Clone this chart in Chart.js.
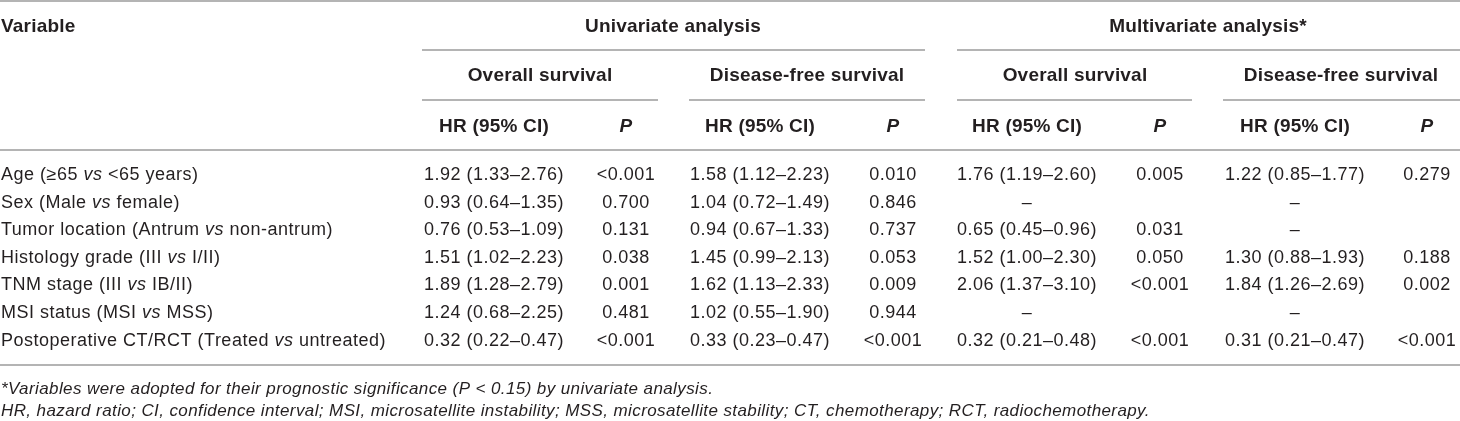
<!DOCTYPE html>
<html>
<head>
<meta charset="utf-8">
<script src="https://cdn.jsdelivr.net/npm/chart.js@4.4.0/dist/chart.umd.min.js"></script>
<style>
  html, body { margin: 0; padding: 0; background: #fff; }
  #wrap { width: 1460px; height: 421px; }
</style>
</head>
<body>
<div id="wrap"><canvas id="tbl" width="1460" height="421"></canvas></div>
<script>
// --- table data ---
const variables = [
  "Age (\u226565 vs <65 years)",
  "Sex (Male vs female)",
  "Tumor location (Antrum vs non-antrum)",
  "Histology grade (III vs I/II)",
  "TNM stage (III vs IB/II)",
  "MSI status (MSI vs MSS)",
  "Postoperative CT/RCT (Treated vs untreated)"
];
const uniOsHR  = ["1.92 (1.33\u20132.76)", "0.93 (0.64\u20131.35)", "0.76 (0.53\u20131.09)", "1.51 (1.02\u20132.23)", "1.89 (1.28\u20132.79)", "1.24 (0.68\u20132.25)", "0.32 (0.22\u20130.47)"];
const uniOsP   = ["<0.001", "0.700", "0.131", "0.038", "0.001", "0.481", "<0.001"];
const uniDfsHR = ["1.58 (1.12\u20132.23)", "1.04 (0.72\u20131.49)", "0.94 (0.67\u20131.33)", "1.45 (0.99\u20132.13)", "1.62 (1.13\u20132.33)", "1.02 (0.55\u20131.90)", "0.33 (0.23\u20130.47)"];
const uniDfsP  = ["0.010", "0.846", "0.737", "0.053", "0.009", "0.944", "<0.001"];
const mvOsHR   = ["1.76 (1.19\u20132.60)", "\u2013", "0.65 (0.45\u20130.96)", "1.52 (1.00\u20132.30)", "2.06 (1.37\u20133.10)", "\u2013", "0.32 (0.21\u20130.48)"];
const mvOsP    = ["0.005", "", "0.031", "0.050", "<0.001", "", "<0.001"];
const mvDfsHR  = ["1.22 (0.85\u20131.77)", "\u2013", "\u2013", "1.30 (0.88\u20131.93)", "1.84 (1.26\u20132.69)", "\u2013", "0.31 (0.21\u20130.47)"];
const mvDfsP   = ["0.279", "", "", "0.188", "0.002", "", "<0.001"];

const groupHeads = ["Univariate analysis", "Multivariate analysis*"];
const outcomeHeads = ["Overall survival", "Disease-free survival", "Overall survival", "Disease-free survival"];
const colHeads = ["HR (95% CI)", "P", "HR (95% CI)", "P", "HR (95% CI)", "P", "HR (95% CI)", "P"];
const footnotes = [
  "*Variables were adopted for their prognostic significance (P < 0.15) by univariate analysis.",
  "HR, hazard ratio; CI, confidence interval; MSI, microsatellite instability; MSS, microsatellite stability; CT, chemotherapy; RCT, radiochemotherapy."
];

// --- layout ---
const W = 1460, H = 421;
const COL_X = [494, 626, 760, 893, 1027, 1160, 1295, 1427];
const GROUP_X = [673, 1208];
const OUTCOME_X = [540, 807, 1075, 1341];
const ROW_Y0 = 175, ROW_STEP = 27.6;
const HEAD_Y = [27, 76, 127];
const FOOT_Y = [389, 411];
const TEXT = "#231f20", RULE = "#9b9b9b";
const FAMILY = '"Liberation Sans", Arial, Helvetica, sans-serif';

const columns = [uniOsHR, uniOsP, uniDfsHR, uniDfsP, mvOsHR, mvOsP, mvDfsHR, mvDfsP];

// draw a label with "vs" set in italics
function drawRich(ctx, text, x, y, size) {
  const parts = text.split(/\b(vs)\b/);
  let cx = x;
  ctx.textAlign = "left";
  for (const p of parts) {
    if (!p) continue;
    ctx.font = (p === "vs" ? "italic " : "") + size + "px " + FAMILY;
    ctx.fillText(p, cx, y);
    cx += ctx.measureText(p).width;
  }
}

const tablePlugin = {
  id: "tableCells",
  afterDraw(chart) {
    const { ctx, scales: { x, y } } = chart;
    const px = v => x.getPixelForValue(v), py = v => y.getPixelForValue(v);
    ctx.save();
    ctx.fillStyle = TEXT;
    ctx.textBaseline = "middle";

    // rules
    ctx.strokeStyle = RULE;
    ctx.lineWidth = 1.5;
    const rules = [
      [1, [[0, W]]],
      [50, [[422, 925], [957, W]]],
      [100, [[422, 658], [689, 925], [957, 1192], [1223, W]]],
      [150, [[0, W]]],
      [365, [[0, W]]]
    ];
    for (const [ry, segs] of rules) {
      for (const [a, b] of segs) {
        ctx.beginPath();
        ctx.moveTo(px(a), py(ry));
        ctx.lineTo(px(b), py(ry));
        ctx.stroke();
      }
    }

    // headers
    ctx.letterSpacing = "0.2px";
    ctx.font = "bold 19px " + FAMILY;
    ctx.textAlign = "left";
    ctx.fillText("Variable", px(1), py(HEAD_Y[0]));
    ctx.textAlign = "center";
    groupHeads.forEach((t, i) => ctx.fillText(t, px(GROUP_X[i]), py(HEAD_Y[0])));
    outcomeHeads.forEach((t, i) => ctx.fillText(t, px(OUTCOME_X[i]), py(HEAD_Y[1])));
    colHeads.forEach((t, i) => {
      ctx.font = (t === "P" ? "italic bold " : "bold ") + "19px " + FAMILY;
      ctx.fillText(t, px(COL_X[i]), py(HEAD_Y[2]));
    });

    // body
    ctx.letterSpacing = "0.5px";
    variables.forEach((v, r) => {
      const ry = py(ROW_Y0 + r * ROW_STEP);
      drawRich(ctx, v, px(1), ry, 18);
      ctx.font = "18px " + FAMILY;
      ctx.textAlign = "center";
      columns.forEach((col, c) => {
        if (col[r]) ctx.fillText(col[r], px(COL_X[c]), ry);
      });
    });

    // footnotes
    ctx.letterSpacing = "0.4px";
    ctx.font = "italic 17px " + FAMILY;
    ctx.textAlign = "left";
    footnotes.forEach((f, i) => ctx.fillText(f, px(1), py(FOOT_Y[i])));
    ctx.restore();
  }
};

new Chart(document.getElementById("tbl"), {
  type: "scatter",
  data: { datasets: [] },
  options: {
    responsive: false,
    animation: false,
    layout: { padding: 0 },
    plugins: { legend: { display: false }, tooltip: { enabled: false } },
    scales: {
      x: { type: "linear", min: 0, max: W, display: false },
      y: { type: "linear", min: 0, max: H, reverse: true, display: false }
    }
  },
  plugins: [tablePlugin]
});
</script>
</body>
</html>
